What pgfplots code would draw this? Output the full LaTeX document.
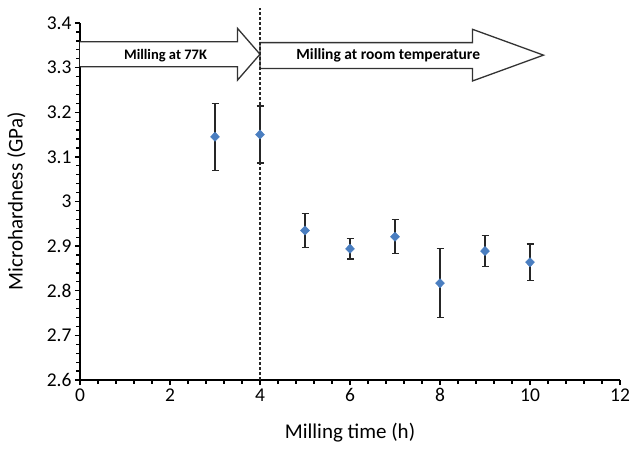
\documentclass[border=0pt]{standalone}
\usepackage{pgfplots}
\pgfplotsset{compat=1.18}
\usepackage{fontspec}
\setmainfont{Carlito}
\definecolor{ptblue}{HTML}{4A7EC0}
\definecolor{arrowgray}{HTML}{333333}
\begin{document}
\begin{tikzpicture}
\useasboundingbox (-80pt,-68pt) rectangle (552pt,380pt);
\begin{axis}[
  at={(0,0)}, anchor=south west,
  scale only axis, width=540pt, height=357pt,
  xmin=0, xmax=12, ymin=2.6, ymax=3.4,
  axis x line*=bottom, axis y line*=left,
  axis line style={-, line width=1.8pt, black},
  xtick={0,2,4,6,8,10,12},
  ytick={2.6,2.7,2.8,2.9,3,3.1,3.2,3.3,3.4},
  yticklabels={2.6,2.7,2.8,2.9,3,3.1,3.2,3.3,3.4},
  minor x tick num=4, minor y tick num=4,
  tick align=outside, major tick length=5pt, minor tick length=3.5pt,
  tick style={black, line width=1.3pt},
  tick label style={font=\fontsize{19.5}{22}\selectfont},
  /pgf/number format/assume math mode=true,
  xlabel={Milling time (h)},
  ylabel={Microhardness (GPa)},
  label style={font=\fontsize{21}{24}\selectfont},
  xlabel style={at={(axis description cs:0.5,-0.148)}, anchor=center},
  ylabel style={at={(axis description cs:-0.118,0.5)}, anchor=center},
  clip=false,
]
\draw[fill=white, draw=arrowgray, line width=1.3pt]
  (axis cs:0,3.302) -- (axis cs:3.5,3.302) -- (axis cs:3.5,3.272) -- (axis cs:4,3.330)
  -- (axis cs:3.5,3.388) -- (axis cs:3.5,3.358) -- (axis cs:0,3.358);
\draw[fill=white, draw=arrowgray, line width=1.3pt]
  (axis cs:4,3.298) -- (axis cs:8.72,3.298) -- (axis cs:8.72,3.270) -- (axis cs:10.3,3.328)
  -- (axis cs:8.72,3.386) -- (axis cs:8.72,3.356) -- (axis cs:4,3.356) -- cycle;
\node[font=\bfseries\fontsize{14.5}{16}\selectfont] at (axis cs:1.9,3.327) {Milling at 77K};
\node[font=\bfseries\fontsize{15.5}{17}\selectfont] at (axis cs:6.85,3.327) {Milling at room temperature};
\draw[black!85, line width=1.2pt, dash pattern=on 3pt off 2pt] (axis cs:4,2.6) -- (axis cs:4,3.434);
\addplot[only marks, mark=diamond*, mark size=4.6pt, color=ptblue,
  mark options={xscale=1.3},
  error bars/.cd, y dir=both, y explicit,
  error bar style={black!85, line width=1.3pt},
  error mark options={rotate=90, mark size=3.5pt, black!85, line width=1.3pt}]
  coordinates {
  (3,3.145) +- (0,0.075)
  (4,3.150) +- (0,0.064)
  (5,2.935) +- (0,0.038)
  (6,2.894) +- (0,0.023)
  (7,2.921) +- (0,0.038)
  (8,2.817) +- (0,0.077)
  (9,2.889) +- (0,0.035)
  (10,2.864) +- (0,0.041)
  };
\end{axis}
\end{tikzpicture}
\end{document}
